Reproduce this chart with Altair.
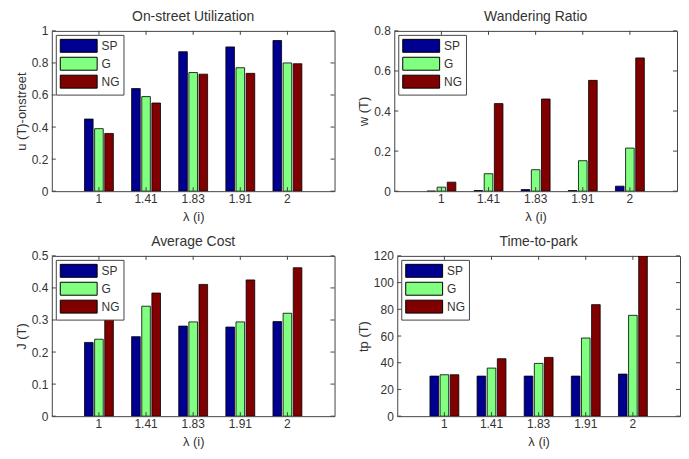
import altair as alt
import pandas as pd

lambdas = ["1", "1.41", "1.83", "1.91", "2"]
series = ["SP", "G", "NG"]
colors = ["#000090", "#80FF80", "#800000"]

# On-street Utilization
util_sp = [0.45, 0.64, 0.87, 0.90, 0.94]
util_g = [0.39, 0.59, 0.74, 0.77, 0.80]
util_ng = [0.36, 0.55, 0.73, 0.735, 0.795]

# Wandering Ratio
wand_sp = [0.0, 0.003, 0.008, 0.003, 0.025]
wand_g = [0.02, 0.087, 0.107, 0.152, 0.215]
wand_ng = [0.045, 0.437, 0.46, 0.553, 0.665]

# Average Cost
cost_sp = [0.23, 0.248, 0.281, 0.278, 0.295]
cost_g = [0.24, 0.343, 0.294, 0.294, 0.321]
cost_ng = [0.36, 0.384, 0.411, 0.425, 0.463]

# Time-to-park
park_sp = [30, 30, 30, 30, 31.5]
park_g = [31, 36, 39.5, 58.5, 75.5]
park_ng = [31, 43, 44, 83.5, 120]

FONT = "Liberation Sans"
LINE = "#444444"
TEXT = "#333333"
W, H = 284, 161
SYM = "M-1,-1L4.7,-1L4.7,1L-1,1Z"


def panel(title, ytitle, domain, ticks, sp, g, ng):
    rows = []
    for s, vals in zip(series, [sp, g, ng]):
        for lam, v in zip(lambdas, vals):
            rows.append({"lam": lam, "series": s, "value": v})
    df = pd.DataFrame(rows)
    ytick_df = pd.DataFrame({"value": ticks})
    xtick_df = pd.DataFrame({"lam": lambdas})
    xs = alt.Scale(paddingInner=0.387, paddingOuter=0.6935)
    ys = alt.Scale(domain=domain, nice=False, zero=True)
    xax = alt.Axis(title="λ (i)", labelAngle=0, tickSize=0, labelPadding=2,
                   titlePadding=6, domain=False)
    yax = alt.Axis(title=ytitle, values=ticks, format="~f", tickSize=0, labelPadding=4,
                   titlePadding=3, grid=False, domain=False)
    main = alt.Chart(df).mark_bar(stroke="black", strokeWidth=0.8, clip=True).encode(
        x=alt.X("lam:N", sort=lambdas, scale=xs, axis=xax),
        xOffset=alt.XOffset("series:N", sort=series, scale=alt.Scale(domain=series, paddingInner=0.15)),
        y=alt.Y("value:Q", scale=ys, axis=yax),
        color=alt.Color("series:N", scale=alt.Scale(domain=series, range=colors),
                        legend=alt.Legend(title=None, orient="top-left", offset=4,
                                          fillColor="white", strokeColor=LINE, padding=4,
                                          symbolType=SYM,
                                          symbolSize=169, symbolStrokeColor="black",
                                          symbolStrokeWidth=1, symbolOpacity=1,
                                          labelFontSize=12, labelFont=FONT, labelColor=TEXT,
                                          rowPadding=0, labelOffset=28)),
    )
    yl = alt.Chart(ytick_df).mark_rule(color=LINE).encode(
        y=alt.Y("value:Q", scale=ys, axis=yax), x=alt.value(0), x2=alt.value(4))
    yr = alt.Chart(ytick_df).mark_rule(color=LINE).encode(
        y=alt.Y("value:Q", scale=ys, axis=yax), x=alt.value(W - 4), x2=alt.value(W))
    xb = alt.Chart(xtick_df).mark_rule(color=LINE).encode(
        x=alt.X("lam:N", sort=lambdas, scale=xs, axis=xax, bandPosition=0.5),
        y=alt.value(H - 4), y2=alt.value(H))
    xt = alt.Chart(xtick_df).mark_rule(color=LINE).encode(
        x=alt.X("lam:N", sort=lambdas, scale=xs, axis=xax, bandPosition=0.5),
        y=alt.value(0), y2=alt.value(4))
    return alt.layer(main, yl, yr, xb, xt).properties(
        width=W, height=H,
        title=alt.TitleParams(title, fontSize=14, fontWeight="normal", font=FONT,
                              color=TEXT, offset=1, frame="group"),
    )


p1 = panel("On-street Utilization", "u (T)-onstreet", [0, 1], [0, 0.2, 0.4, 0.6, 0.8, 1],
           util_sp, util_g, util_ng)
p2 = panel("Wandering Ratio", "w (T)", [0, 0.8], [0, 0.2, 0.4, 0.6, 0.8],
           wand_sp, wand_g, wand_ng)
p3 = panel("Average Cost", "J (T)", [0, 0.5], [0, 0.1, 0.2, 0.3, 0.4, 0.5],
           cost_sp, cost_g, cost_ng)
p4 = panel("Time-to-park", "tp (T)", [0, 120], [0, 20, 40, 60, 80, 100, 120],
           park_sp, park_g, park_ng)

top = alt.hconcat(p1, p2, spacing=21).resolve_scale(
    color="independent", x="independent", y="independent").resolve_legend(color="independent")
bottom = alt.hconcat(p3, p4, spacing=21).resolve_scale(
    color="independent", x="independent", y="independent").resolve_legend(color="independent")

chart = alt.vconcat(top, bottom, spacing=10).resolve_scale(
    color="independent", x="independent", y="independent"
).resolve_legend(color="independent").properties(
    padding={"left": 6, "top": 0, "right": 0, "bottom": 0}
).configure(
    font=FONT,
).configure_view(
    stroke=LINE, strokeWidth=1,
).configure_axis(
    labelFont=FONT, titleFont=FONT, labelFontSize=12, titleFontSize=13,
    titleFontWeight="normal", labelColor=TEXT, titleColor=TEXT,
    tickColor=LINE, domainColor=LINE, grid=False,
)

chart.save("out.html", embed_options={"renderer": "svg", "actions": False})
